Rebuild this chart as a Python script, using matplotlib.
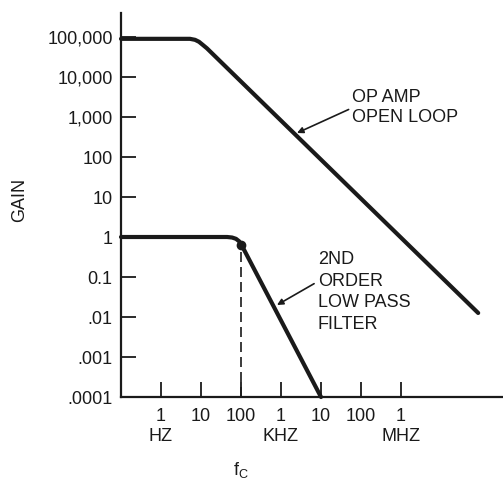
import numpy as np
import matplotlib
matplotlib.use("Agg")
import matplotlib.pyplot as plt
import matplotlib.transforms as mtransforms

plt.rcParams['font.family'] = ['Liberation Sans', 'DejaVu Sans']
plt.rcParams['mathtext.default'] = 'regular'

# op amp open loop gain (Hz, gain)
opamp_freq = [0.1, 5.3, 7.1, 8.9, 11.2, 14.1, 8.5e7]
opamp_gain = [9.0e4, 9.0e4, 8.5e4, 7.6e4, 6.3e4, 5.2e4, 0.0126]

# 2nd order low pass filter (Hz, gain)
filt_freq = [0.1, 45, 60, 75, 90, 106, 1.0e4]
filt_gain = [1.0, 1.0, 0.97, 0.9, 0.78, 0.6, 1.0e-4]

# corner frequency marker
fc_freq = 100
fc_gain = 0.62

y_ticks = [1e-4, 1e-3, 1e-2, 1e-1, 1, 10, 100, 1e3, 1e4, 1e5]
y_labels = [".0001", ".001", ".01", "0.1", "1", "10", "100", "1,000", "10,000", "100,000"]
x_ticks = [1, 10, 100, 1e3, 1e4, 1e5, 1e6]
x_labels = ["1\nHZ", "10", "100", "1\nKHZ", "10", "100", "1\nMHZ"]

fig = plt.figure(figsize=(5.03, 4.80), dpi=100)
ax = fig.add_axes([121 / 503, 83 / 480, 382 / 503, 384 / 480])

ax.plot(opamp_freq, opamp_gain, color="#1a1a1a", lw=3.0, solid_capstyle="round",
        solid_joinstyle="round", clip_on=False, zorder=3)
ax.plot(filt_freq, filt_gain, color="#1a1a1a", lw=3.0, solid_capstyle="round",
        solid_joinstyle="round", clip_on=False, zorder=3)
ax.plot([fc_freq, fc_freq], [1e-4, fc_gain], color="#1a1a1a", lw=1.2,
        dashes=(6, 3), zorder=2)
ax.plot([fc_freq], [fc_gain], "o", color="#1a1a1a", ms=6, zorder=4)

ax.set_xscale("log")
ax.set_yscale("log")
ax.set_xlim(10 ** -1, 10 ** 8.55)
ax.set_ylim(1e-4, 10 ** 5.6)

ax.set_yticks(y_ticks)
ax.set_yticklabels(y_labels)
ax.set_xticks(x_ticks)
ax.set_xticklabels(x_labels, linespacing=1.25)
ax.minorticks_off()
ax.tick_params(axis="both", direction="in", length=11, width=1.3, color="#1a1a1a",
               labelsize=13, labelcolor="#1a1a1a")
ax.tick_params(axis="y", pad=6)
ax.tick_params(axis="x", pad=8)

for side in ["top", "right"]:
    ax.spines[side].set_visible(False)
for side in ["left", "bottom"]:
    ax.spines[side].set_linewidth(1.6)
    ax.spines[side].set_color("#1a1a1a")

# annotations
ax.annotate("OP AMP\nOPEN LOOP", xy=(10 ** 3.4, 10 ** 2.6), xytext=(10 ** 4.77, 10 ** 3.7),
            fontsize=13, color="#1a1a1a", ha="left", va="top", linespacing=1.25,
            arrowprops=dict(arrowstyle="-|>", color="#1a1a1a", lw=1.2,
                            mutation_scale=9, shrinkA=0, shrinkB=0,
                            relpos=(-0.03, 0.45)))
ax.annotate("2ND\nORDER\nLOW PASS\nFILTER", xy=(10 ** 2.9, 10 ** -1.7),
            xytext=(10 ** 3.92, 10 ** -0.35),
            fontsize=13, color="#1a1a1a", ha="left", va="top", linespacing=1.35,
            arrowprops=dict(arrowstyle="-|>", color="#1a1a1a", lw=1.2,
                            mutation_scale=9, shrinkA=0, shrinkB=0,
                            relpos=(-0.04, 0.6)))

trans = mtransforms.blended_transform_factory(ax.transData, fig.transFigure)
ax.text(fc_freq, 10 / 480, "f$_C$", transform=trans, fontsize=13, color="#1a1a1a",
        ha="center", va="center")
fig.text(20 / 503, 280 / 480, "GAIN", rotation=90, fontsize=13, color="#1a1a1a",
         ha="center", va="center")

fig.savefig("out.png", dpi=100)
